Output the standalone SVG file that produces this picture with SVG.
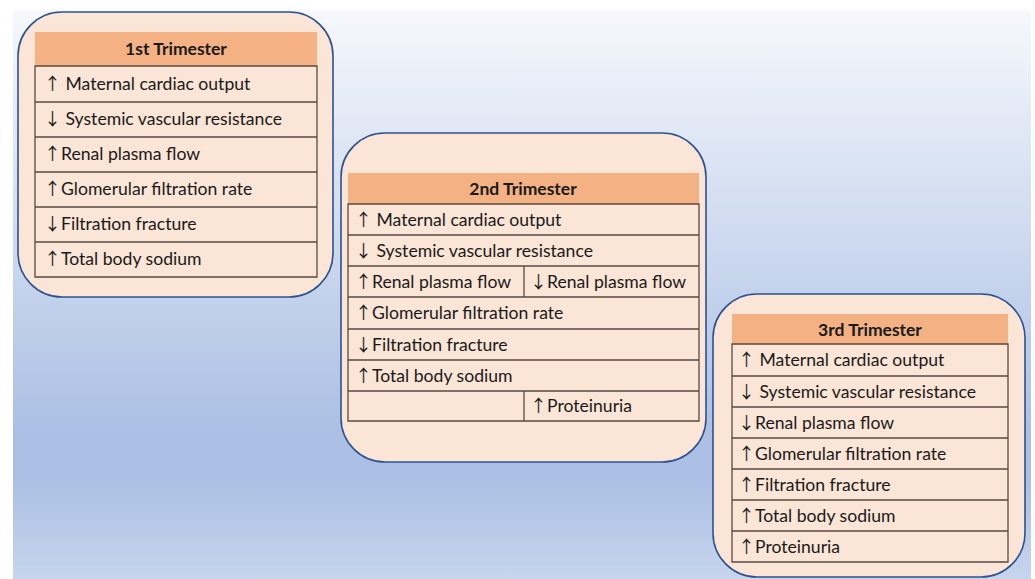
<svg xmlns="http://www.w3.org/2000/svg" width="1035" height="579" viewBox="0 0 1035 579">
<defs>
<linearGradient id="bg" x1="0" y1="0" x2="0" y2="1">
<stop offset="0" stop-color="#f6f8fc"/>
<stop offset="0.74" stop-color="#abc0e4"/>
<stop offset="0.83" stop-color="#abc0e4"/>
<stop offset="1" stop-color="#c7d5ed"/>
</linearGradient>
<style>
.card{fill:#fbe5d6;stroke:#2f528f;stroke-width:1.6}
.hdr{fill:#f4b183}
.grid{fill:none;stroke:#5a4a40;stroke-width:1.3}
.t{font-family:Lato,"Liberation Sans",sans-serif;font-size:17.6px;fill:#1a1a1a}
.a{font-family:"Noto Sans CJK JP","Noto Sans CJK SC",sans-serif;font-size:17px;fill:#1a1a1a}
.h{font-family:Lato,"Liberation Sans",sans-serif;font-size:17.5px;font-weight:bold;fill:#1a1a1a;text-anchor:middle}
</style>
</defs>
<rect x="0" y="0" width="1035" height="579" fill="#ffffff"/>
<rect x="13" y="10" width="1018" height="569" fill="url(#bg)"/>

<g id="trimester1">
<rect class="card" x="18" y="12" width="315" height="285" rx="44"/>
<rect class="hdr" x="35" y="32" width="282" height="34"/>
<text class="h" x="176" y="55">1st Trimester</text>
<path class="grid" d="M35 66H317V277H35Z M35 102H317 M35 137H317 M35 172H317 M35 207H317 M35 242H317"/>
<text class="t" x="44" y="90"><tspan class="a">↑</tspan> Maternal cardiac output</text>
<text class="t" x="44" y="125"><tspan class="a">↓</tspan> Systemic vascular resistance</text>
<text class="t" x="44" y="160"><tspan class="a">↑</tspan>Renal plasma flow</text>
<text class="t" x="44" y="195"><tspan class="a">↑</tspan>Glomerular filtration rate</text>
<text class="t" x="44" y="230"><tspan class="a">↓</tspan>Filtration fracture</text>
<text class="t" x="44" y="265"><tspan class="a">↑</tspan>Total body sodium</text>
</g>

<g id="trimester2">
<rect class="card" x="341" y="133" width="365" height="329" rx="44"/>
<rect class="hdr" x="348" y="173" width="351" height="31"/>
<text class="h" x="523" y="195">2nd Trimester</text>
<path class="grid" d="M348 204H699V421H348Z M348 235H699 M348 266H699 M348 297H699 M348 329H699 M348 360H699 M348 391H699 M524 266V297 M524 391V421"/>
<text class="t" x="355" y="226"><tspan class="a">↑</tspan> Maternal cardiac output</text>
<text class="t" x="355" y="257"><tspan class="a">↓</tspan> Systemic vascular resistance</text>
<text class="t" x="355" y="288"><tspan class="a">↑</tspan>Renal plasma flow</text>
<text class="t" x="530" y="288"><tspan class="a">↓</tspan>Renal plasma flow</text>
<text class="t" x="355" y="319"><tspan class="a">↑</tspan>Glomerular filtration rate</text>
<text class="t" x="355" y="351"><tspan class="a">↓</tspan>Filtration fracture</text>
<text class="t" x="355" y="382"><tspan class="a">↑</tspan>Total body sodium</text>
<text class="t" x="530" y="412"><tspan class="a">↑</tspan>Proteinuria</text>
</g>

<g id="trimester3">
<rect class="card" x="713" y="294" width="312" height="283" rx="44"/>
<rect class="hdr" x="732" y="314" width="276" height="30"/>
<text class="h" x="870" y="336">3rd Trimester</text>
<path class="grid" d="M732 344H1008V562H732Z M732 376H1008 M732 407H1008 M732 438H1008 M732 469H1008 M732 500H1008 M732 531H1008"/>
<text class="t" x="738" y="366"><tspan class="a">↑</tspan> Maternal cardiac output</text>
<text class="t" x="738" y="398"><tspan class="a">↓</tspan> Systemic vascular resistance</text>
<text class="t" x="738" y="429"><tspan class="a">↓</tspan>Renal plasma flow</text>
<text class="t" x="738" y="460"><tspan class="a">↑</tspan>Glomerular filtration rate</text>
<text class="t" x="738" y="491"><tspan class="a">↑</tspan>Filtration fracture</text>
<text class="t" x="738" y="522"><tspan class="a">↑</tspan>Total body sodium</text>
<text class="t" x="738" y="553"><tspan class="a">↑</tspan>Proteinuria</text>
</g>

<g id="connectors"></g>
</svg>
